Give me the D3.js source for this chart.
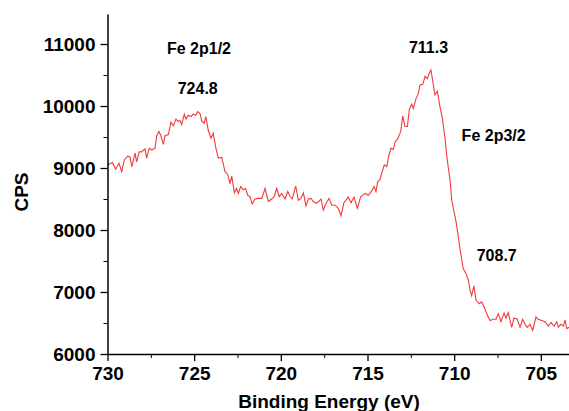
<!DOCTYPE html>
<html>
<head>
<meta charset="utf-8">
<script src="https://cdn.jsdelivr.net/npm/d3@7"></script>
<style>
  body { margin: 0; background: #fff; }
  svg { display: block; font-family: "Liberation Sans", Arial, sans-serif; }
</style>
</head>
<body>
<svg id="chart" width="569" height="411"></svg>
<script>
// binding energy (eV)
const energy = [
  730.00, 729.72, 729.53, 729.34, 729.18, 729.03, 728.83, 728.70, 728.60, 728.41,
  728.32, 728.17, 728.03, 727.84, 727.74, 727.59, 727.45, 727.26, 727.16, 727.03,
  726.93, 726.78, 726.68, 726.49, 726.34, 726.20, 726.05, 725.92, 725.82, 725.72,
  725.57, 725.47, 725.34, 725.18, 725.05, 724.91, 724.80, 724.66, 724.57, 724.42,
  724.33, 724.18, 724.03, 723.90, 723.76, 723.61, 723.41, 723.22, 723.07, 722.93,
  722.83, 722.68, 722.55, 722.45, 722.32, 722.17, 722.03, 721.91, 721.78, 721.65,
  721.49, 721.30, 721.10, 720.91, 720.72, 720.53, 720.38, 720.24, 720.09, 719.95,
  719.76, 719.60, 719.47, 719.34, 719.14, 718.99, 718.84, 718.70, 718.55, 718.41,
  718.26, 718.13, 717.93, 717.68, 717.55, 717.39, 717.22, 717.06, 716.87, 716.68,
  716.53, 716.36, 716.11, 715.95, 715.78, 715.59, 715.39, 715.14, 714.95, 714.76,
  714.62, 714.51, 714.41, 714.28, 714.18, 714.03, 713.89, 713.76, 713.64, 713.51,
  713.41, 713.26, 713.08, 712.97, 712.84, 712.70, 712.59, 712.45, 712.36, 712.20,
  712.07, 711.97, 711.81, 711.68, 711.55, 711.45, 711.34, 711.20, 711.11, 710.97,
  710.82, 710.68, 710.53, 710.40, 710.24, 710.14, 709.89, 709.76, 709.62, 709.47,
  709.32, 709.18, 709.09, 708.99, 708.86, 708.74, 708.55, 708.41, 708.26, 708.09,
  707.93, 707.74, 707.59, 707.45, 707.30, 707.12, 707.01, 706.88, 706.68, 706.55,
  706.36, 706.20, 706.05, 705.91, 705.78, 705.62, 705.47, 705.28, 705.15, 704.95,
  704.76, 704.57, 704.41, 704.24, 704.08, 703.99, 703.85, 703.70, 703.60, 703.51,
  703.37
];

// counts per second
const cps = [
  9050, 9090, 8980, 9080, 8940, 9130, 9190, 9180, 9020, 9240,
  9100, 9260, 9260, 9310, 9160, 9320, 9290, 9320, 9520, 9590,
  9530, 9380, 9520, 9540, 9740, 9680, 9790, 9750, 9770, 9700,
  9870, 9790, 9850, 9830, 9870, 9850, 9910, 9880, 9760, 9720,
  9830, 9600, 9480, 9560, 9340, 9160, 9170, 8940, 8900, 8750,
  8870, 8600, 8670, 8590, 8700, 8650, 8670, 8560, 8540, 8420,
  8500, 8510, 8510, 8670, 8460, 8500, 8540, 8670, 8540, 8590,
  8500, 8620, 8540, 8500, 8710, 8480, 8510, 8600, 8390, 8500,
  8510, 8460, 8430, 8500, 8320, 8430, 8510, 8400, 8400, 8350,
  8230, 8440, 8530, 8440, 8530, 8350, 8540, 8590, 8560, 8630,
  8700, 8620, 8780, 8810, 8920, 9050, 9020, 9210, 9320, 9300,
  9420, 9470, 9590, 9840, 9670, 9670, 9940, 10030, 9960, 10120,
  10200, 10340, 10350, 10480, 10440, 10520, 10580, 10340, 10180, 10240,
  9990, 9800, 9480, 9130, 8810, 8480, 8130, 7890, 7620, 7370,
  7300, 7190, 7030, 6940, 7100, 6870, 6810, 6840, 6750, 6630,
  6540, 6560, 6560, 6650, 6520, 6660, 6580, 6670, 6430, 6580,
  6560, 6430, 6560, 6480, 6430, 6480, 6380, 6600, 6560, 6540,
  6520, 6450, 6510, 6450, 6520, 6430, 6480, 6450, 6550, 6410,
  6430
];

const xTicks = [730, 725, 720, 715, 710, 705];
const xMinor = [727.5, 722.5, 717.5, 712.5, 707.5];
const yTicks = [6000, 7000, 8000, 9000, 10000, 11000];
const yMinor = [6500, 7500, 8500, 9500, 10500];

// peak annotations: text anchored (start, baseline) at an energy / cps position
const labels = [
  {text: "Fe 2p1/2", e: 726.57, v: 10840},
  {text: "724.8", e: 725.95, v: 10190},
  {text: "711.3", e: 712.61, v: 10860},
  {text: "Fe 2p3/2", e: 709.57, v: 9440},
  {text: "708.7", e: 708.70, v: 7500}
];

const svg = d3.select("#chart");
const plotLeft = 107.5, plotTop = 14, plotBottom = 354;

const x = d3.scaleLinear().domain([730, 700]).range([plotLeft, plotLeft + 520]);
const y = d3.scaleLinear().domain([6000, 11484]).range([plotBottom, plotTop]);

const data = energy.map((e, i) => ({e: e, v: cps[i]}));

svg.append("path")
  .datum(data)
  .attr("fill", "none")
  .attr("stroke", "#f23a3a")
  .attr("stroke-width", 1.1)
  .attr("d", d3.line().x(d => x(d.e)).y(d => y(d.v)));

// minor ticks first, major axis on top
svg.append("g")
  .attr("transform", "translate(0," + plotBottom + ")")
  .call(d3.axisBottom(x).tickValues(xMinor).tickSize(4).tickFormat(""))
  .call(g => g.select(".domain").remove());
svg.append("g")
  .attr("transform", "translate(" + plotLeft + ",0)")
  .call(d3.axisLeft(y).tickValues(yMinor).tickSize(4).tickFormat(""))
  .call(g => g.select(".domain").remove());

const xAxis = svg.append("g")
  .attr("transform", "translate(0," + plotBottom + ")")
  .call(d3.axisBottom(x).tickValues(xTicks).tickFormat(d3.format("d"))
    .tickSize(7).tickPadding(6).tickSizeOuter(0));
const yAxis = svg.append("g")
  .attr("transform", "translate(" + plotLeft + ",0)")
  .call(d3.axisLeft(y).tickValues(yTicks).tickFormat(d3.format("d"))
    .tickSize(7).tickPadding(5).tickSizeOuter(0));

[xAxis, yAxis].forEach(g => {
  g.selectAll("text")
    .attr("font-family", "Liberation Sans, Arial, sans-serif")
    .attr("font-size", 19)
    .attr("font-weight", "bold")
    .attr("fill", "#000");
  g.selectAll("line").attr("stroke-width", 1.3);
  g.select(".domain").attr("stroke-width", 1.5);
});

svg.append("text")
  .attr("x", 329)
  .attr("y", 408)
  .attr("text-anchor", "middle")
  .attr("font-size", 19)
  .attr("font-weight", "bold")
  .text("Binding Energy (eV)");

svg.append("text")
  .attr("transform", "translate(28,192) rotate(-90)")
  .attr("text-anchor", "middle")
  .attr("font-size", 19)
  .attr("font-weight", "bold")
  .text("CPS");

svg.selectAll(".note")
  .data(labels)
  .enter().append("text")
    .attr("class", "note")
    .attr("x", d => x(d.e))
    .attr("y", d => y(d.v))
    .attr("font-size", 16)
    .attr("font-weight", "bold")
    .text(d => d.text);
</script>
</body>
</html>
